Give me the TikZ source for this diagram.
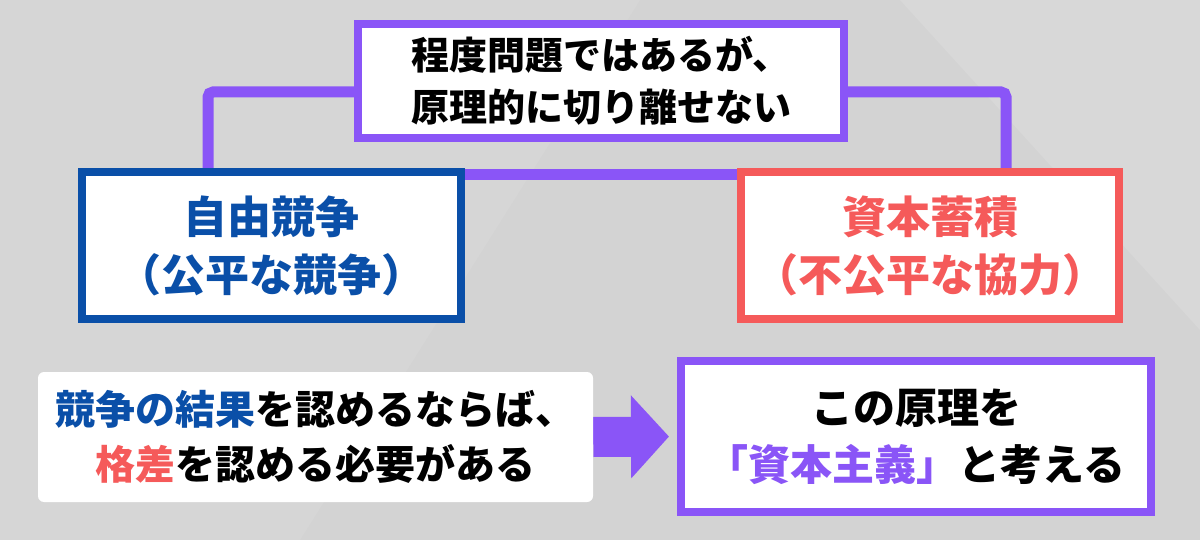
\documentclass[tikz,border=0pt]{standalone}
\usepackage{fontspec}
\setmainfont{Noto Sans CJK JP}
\usetikzlibrary{arrows.meta}
\definecolor{cpurple}{HTML}{8A55F7}
\definecolor{cblue}{HTML}{0A4FA8}
\definecolor{cred}{HTML}{F55A5A}
\definecolor{bg}{HTML}{D3D3D3}
\pgfdeclarelayer{back}
\pgfsetlayers{back,main}
\begin{document}
\begin{tikzpicture}[x=1pt,y=-1pt,
  box/.style={draw, line width=8pt, fill=white, align=center, inner sep=0pt},
  conn/.style={draw=cpurple, line width=11pt, rounded corners=5pt},
  bigarrow/.style={draw=cpurple, line width=40pt, -{Triangle[length=38pt,width=81pt]}}]
\useasboundingbox (0,0) rectangle (1200,540);
% nodes
\node[box, draw=cpurple, minimum width=486pt, minimum height=114pt,
      font=\bfseries\fontsize{38}{52}\selectfont] (top) at (601,81)
      {程度問題ではあるが、\\原理的に切り離せない};
\node[box, draw=cblue, text=cblue, minimum width=379pt, minimum height=147pt,
      font=\bfseries\fontsize{44}{58}\selectfont] (free) at (271.5,245.5)
      {自由競争\\（公平な競争）};
\node[box, draw=cred, text=cred, minimum width=378pt, minimum height=147pt,
      font=\bfseries\fontsize{44}{58}\selectfont] (capital) at (930,245.5)
      {資本蓄積\\（不公平な協力）};
\node[fill=white, rounded corners=6pt, align=center, inner sep=0pt,
      minimum width=555pt, minimum height=130pt,
      font=\bfseries\fontsize{40}{55}\selectfont] (result) at (315.5,437)
      {{\color{cblue}競争の結果}を認めるならば、\\{\color{cred}格差}を認める必要がある};
\node[box, draw=cpurple, minimum width=470pt, minimum height=151pt,
      font=\bfseries\fontsize{42}{57}\selectfont] (concept) at (916,436.5)
      {この原理を\\{\color{cpurple}「資本主義」}と考える};
% background and connectors
\begin{pgfonlayer}{back}
\fill[bg] (0,0) rectangle (1200,540);
\fill[white, opacity=0.07] (0,0) -- (640,0) -- (300,540) -- (0,540) -- cycle;
\fill[white, opacity=0.12] (1200,0) -- (900,0) -- (1200,330) -- cycle;
\draw[conn] ([yshift=-11pt]top.west) -| ([xshift=130pt]free.north west);
\draw[conn] ([yshift=-11pt]top.east) -| ([xshift=-117pt]capital.north east);
\draw[conn] ([yshift=-7pt]free.north east) -- ([yshift=-7pt]capital.north west);
\draw[bigarrow, shorten >=8pt] (result.east) -- (concept.west);
\end{pgfonlayer}
\end{tikzpicture}
\end{document}
